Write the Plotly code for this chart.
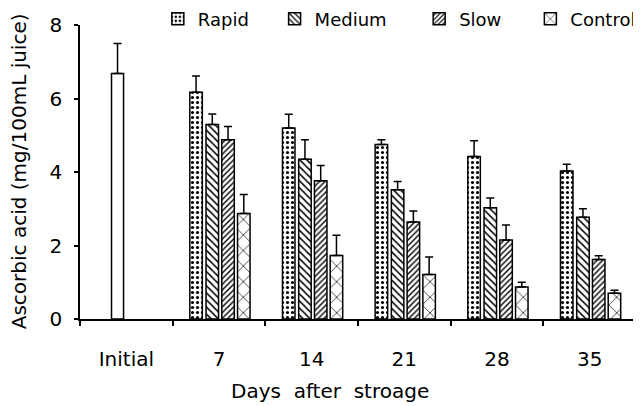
import plotly.graph_objects as go

categories = ["Initial", "7", "14", "21", "28", "35"]
days = ["7", "14", "21", "28", "35"]

initial_value = [6.68]
initial_err_top = [7.5]

rapid = [6.17, 5.2, 4.75, 4.42, 4.03]
rapid_top = [6.61, 5.57, 4.88, 4.85, 4.21]
medium = [5.29, 4.35, 3.52, 3.03, 2.77]
medium_top = [5.58, 4.88, 3.74, 3.29, 3.0]
slow = [4.88, 3.76, 2.64, 2.15, 1.62]
slow_top = [5.24, 4.18, 2.94, 2.56, 1.72]
control = [2.87, 1.73, 1.21, 0.87, 0.70]
control_top = [3.39, 2.28, 1.69, 1.0, 0.78]

FONT = "DejaVu Sans"
x_days = [categories.index(d) for d in days]

fig = go.Figure()

def up_err(vals, tops):
    return dict(type="data", symmetric=False,
                array=[t - v for v, t in zip(vals, tops)],
                arrayminus=[0] * len(vals),
                color="black", thickness=1.5, width=4)

fig.add_trace(go.Bar(
    x=[0], y=initial_value, width=0.13, offset=-0.16,
    marker=dict(color="white", line=dict(color="black", width=1.5)),
    error_y=up_err(initial_value, initial_err_top), showlegend=False))

series = [
    ("Rapid", rapid, rapid_top, -0.315, dict(shape=".", size=5, solidity=0.3), "legend"),
    ("Medium", medium, medium_top, -0.14, dict(shape="\\", size=5, solidity=0.3), "legend2"),
    ("Slow", slow, slow_top, 0.03, dict(shape="/", size=4, solidity=0.35), "legend3"),
    ("Control", control, control_top, 0.2, dict(shape="x", size=11, solidity=0.12), "legend4"),
]
for name, vals, tops, off, pat, lg in series:
    pat.update(fgcolor="black", bgcolor="white", fillmode="replace")
    fig.add_trace(go.Bar(
        name=name, x=x_days, y=vals, width=0.135, offset=off,
        marker=dict(color="white", pattern=pat, line=dict(color="black", width=1.5)),
        error_y=up_err(vals, tops), legend=lg))

leg_common = dict(orientation="h", yanchor="middle", y=1.02, xanchor="left",
                  font=dict(family=FONT, size=18, color="black"),
                  bgcolor="rgba(0,0,0,0)", borderwidth=0)
pos = [0.14, 0.35, 0.61, 0.81]

fig.update_layout(
    width=633, height=398,
    margin=dict(l=72, r=5, t=16.5, b=87, autoexpand=False),
    paper_bgcolor="white", plot_bgcolor="white",
    barmode="overlay",
    font=dict(family=FONT, size=20, color="black"),
    legend=dict(leg_common, x=pos[0]),
    legend2=dict(leg_common, x=pos[1]),
    legend3=dict(leg_common, x=pos[2]),
    legend4=dict(leg_common, x=pos[3]),
    xaxis=dict(range=[-0.5, 5.5], tickmode="array",
               tickvals=list(range(len(categories))), ticktext=categories,
               ticks="", showline=True, linecolor="black", linewidth=1.5,
               showgrid=False, zeroline=False, ticklabelstandoff=21,
               tickfont=dict(family=FONT, size=20, color="black"),
               minor=dict(ticks="outside", tick0=0.5, dtick=1, ticklen=5,
                          tickcolor="black", tickwidth=1.5, showgrid=False)),
    yaxis=dict(range=[0, 8], tickvals=[0, 2, 4, 6, 8], ticks="outside",
               ticklen=4, tickwidth=1.5, tickcolor="black",
               showline=True, linecolor="black", linewidth=1.5,
               showgrid=False, zeroline=False, ticklabelstandoff=8,
               tickfont=dict(family=FONT, size=20, color="black")),
    annotations=[
        dict(text="Ascorbic acid (mg/100mL juice)", xref="paper", yref="paper",
             x=-0.1097, y=0.5025, xanchor="center", yanchor="middle",
             textangle=-90, showarrow=False,
             font=dict(family=FONT, size=20, color="black")),
        dict(text="Days\u00a0 after\u00a0 stroage", xref="paper", yref="paper",
             x=0.45, y=-0.2445, xanchor="center", yanchor="middle",
             showarrow=False, font=dict(family=FONT, size=20, color="black")),
    ],
)

fig.write_html("out.html")
